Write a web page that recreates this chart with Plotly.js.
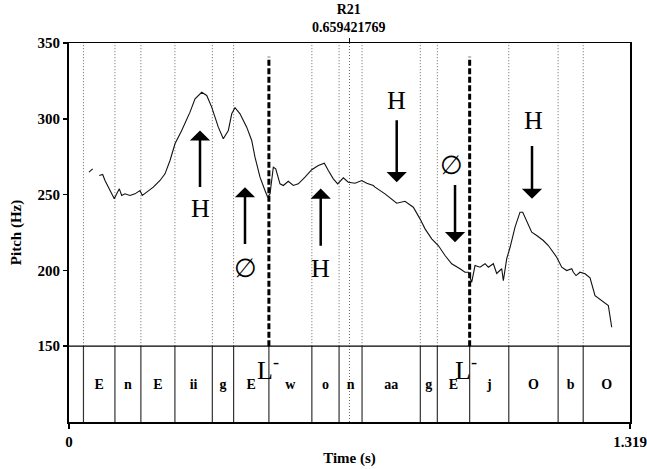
<!DOCTYPE html>
<html>
<head>
<meta charset="utf-8">
<script src="https://cdn.plot.ly/plotly-3.0.1.min.js"></script>
<style>html,body{margin:0;padding:0;background:#fff}#chart{width:647px;height:469px}</style>
</head>
<body>
<div id="chart"></div>
<script>
// ---- data ----
const segBounds = [0.034, 0.108, 0.169, 0.249, 0.337, 0.387, 0.470, 0.571, 0.635, 0.689, 0.826, 0.866, 0.942, 1.034, 1.150, 1.209, 1.319];
const segLabels = ['E', 'n', 'E', 'ii', 'g', 'E', 'w', 'o', 'n', 'aa', 'g', 'E', 'j', 'O', 'b', 'O'];
const breakTimes = [0.470, 0.942];
const breakLabels = ['L<sup>-</sup>', 'L<sup>-</sup>'];
const breakLabelX = [0.468, 0.933];
const markerTime = 0.659421769;
const markerName = 'R21';

const pitchT1 = [0.0470, 0.0557];
const pitchF1 = [264.8, 267.0];
const pitchT2 = [0.0712, 0.0792, 0.0846, 0.0964, 0.1065, 0.1122, 0.1183, 0.1239, 0.1317, 0.1434, 0.1552, 0.1669, 0.1723, 0.1827, 0.1982, 0.2140, 0.2257, 0.2375, 0.2492, 0.2650, 0.2845, 0.2963, 0.3120, 0.3238, 0.3355, 0.3510, 0.3628, 0.3746, 0.3826, 0.3903, 0.4021, 0.4178, 0.4296, 0.4373, 0.4491, 0.4608, 0.4672, 0.4726, 0.4804, 0.4860, 0.4961, 0.5039, 0.5156, 0.5274, 0.5391, 0.5549, 0.5707, 0.5862, 0.6003, 0.6097, 0.6214, 0.6318, 0.6450, 0.6567, 0.6725, 0.6882, 0.7000, 0.7155, 0.7195, 0.7430, 0.7705, 0.7900, 0.8095, 0.8253, 0.8371, 0.8528, 0.8683, 0.8841, 0.8998, 0.9193, 0.9311, 0.9389, 0.9469, 0.9546, 0.9664, 0.9781, 0.9859, 0.9977, 1.0056, 1.0174, 1.0212, 1.0292, 1.0369, 1.0487, 1.0604, 1.0668, 1.0762, 1.0879, 1.0997, 1.1152, 1.1270, 1.1350, 1.1467, 1.1585, 1.1702, 1.1820, 1.1858, 1.1921, 1.2015, 1.2133, 1.2250, 1.2368, 1.2525, 1.2681, 1.2760];
const pitchF2 = [262.6, 263.3, 259.3, 252.7, 247.2, 250.5, 253.8, 249.4, 250.5, 249.4, 250.5, 252.7, 249.4, 251.6, 254.9, 259.3, 263.7, 272.5, 283.5, 292.3, 304.4, 313.2, 317.5, 315.4, 307.7, 294.5, 286.8, 292.3, 303.3, 307.3, 303.3, 294.5, 285.7, 274.7, 261.5, 252.7, 248.3, 250.5, 268.1, 267.0, 257.1, 256.0, 258.8, 256.0, 257.1, 261.5, 266.4, 269.2, 270.7, 265.9, 260.4, 257.1, 261.1, 258.2, 257.5, 259.3, 257.5, 256.0, 254.9, 250.5, 244.3, 245.6, 241.7, 234.0, 227.4, 220.8, 216.4, 209.8, 204.4, 201.1, 198.8, 198.8, 192.2, 203.2, 202.1, 204.4, 202.1, 204.4, 198.0, 201.1, 193.3, 207.8, 215.1, 228.5, 238.4, 238.4, 232.9, 225.2, 223.0, 219.7, 216.4, 213.1, 208.7, 202.1, 199.9, 201.1, 198.8, 196.6, 198.8, 197.8, 195.1, 183.4, 180.1, 176.8, 162.5];

// tone labels and arrows
const toneText = ['H', '\u2205', 'H', 'H', '\u2205', 'H'];
const toneX = [0.308, 0.4138, 0.5918, 0.7705, 0.900, 1.0917];
const toneY = [240.8, 201.3, 201.3, 312.1, 269.2, 298.9];
const arrowX = [0.308, 0.4138, 0.5918, 0.7705, 0.9076, 1.0886];
const arrowTailY = [254.0, 216.4, 215.3, 300.0, 257.3, 283.0];
const arrowTipY = [292.3, 254.9, 254.0, 258.2, 218.6, 247.2];

const yTicks = [150, 200, 250, 300, 350];
const xTickVals = [0, 1.319];
const xTickText = ['0', '1.319'];

// ---- layout constants ----
const FONT = 'Liberation Serif, Times New Roman, DejaVu Serif, serif';
const PANE_SPLIT = 150, Y_MIN = 100, Y_MAX = 350, BREAK_TOP = 341, LABEL_Y = 124, LBL_Y = 135;

// ---- build traces ----
const traces = [];
function vlines(xs, y0, y1) {
  const x = [], y = [];
  xs.forEach(v => { x.push(v, v, null); y.push(y0, y1, null); });
  return { x, y };
}
const innerBounds = segBounds.slice(0, -1);
const dottedB = innerBounds.filter(b => !breakTimes.includes(b));
let d = vlines(dottedB, PANE_SPLIT, Y_MAX);
traces.push({ x: d.x, y: d.y, mode: 'lines', line: { color: '#666', width: 1, dash: '1px,2px' }, hoverinfo: 'skip', showlegend: false });
d = vlines([markerTime], Y_MIN, Y_MAX);
traces.push({ x: d.x, y: d.y, mode: 'lines', line: { color: '#666', width: 1, dash: '1px,2px' }, hoverinfo: 'skip', showlegend: false });
d = vlines(innerBounds, Y_MIN, PANE_SPLIT);
traces.push({ x: d.x, y: d.y, mode: 'lines', line: { color: '#333', width: 1.2 }, hoverinfo: 'skip', showlegend: false });
d = vlines(breakTimes, PANE_SPLIT, BREAK_TOP);
traces.push({ x: d.x, y: d.y, mode: 'lines', line: { color: '#000', width: 3, dash: '6px,2.5px' }, hoverinfo: 'skip', showlegend: false });

traces.push({ x: pitchT1, y: pitchF1, mode: 'lines', line: { color: '#111', width: 1.1 }, showlegend: false });
traces.push({ x: pitchT2, y: pitchF2, mode: 'lines', line: { color: '#111', width: 1.1 }, showlegend: false });

const mids = segLabels.map((_, i) => (segBounds[i] + segBounds[i + 1]) / 2);
traces.push({ x: mids, y: segLabels.map(() => LABEL_Y), text: segLabels, mode: 'text', textposition: 'middle center',
  textfont: { family: FONT, size: 14, color: '#000', weight: 'bold' }, hoverinfo: 'skip', showlegend: false });

// ---- annotations ----
const annotations = [];
toneText.forEach((t, i) => annotations.push({ x: toneX[i], y: toneY[i], xref: 'x', yref: 'y', text: t, showarrow: false,
  font: { family: FONT, size: 26, color: '#000' } }));
arrowX.forEach((x, i) => annotations.push({ x: x, y: arrowTipY[i], ax: x, ay: arrowTailY[i], xref: 'x', yref: 'y', axref: 'x', ayref: 'y',
  text: '', showarrow: true, arrowhead: 1, arrowsize: 1.35, arrowwidth: 2.5, arrowcolor: '#000', standoff: 0, startstandoff: 0 }));
breakLabelX.forEach((x, i) => annotations.push({ x: x, y: LBL_Y, xref: 'x', yref: 'y', text: breakLabels[i], showarrow: false,
  font: { family: FONT, size: 26, color: '#000' } }));
annotations.push({ x: markerTime, y: 1, xref: 'x', yref: 'paper', yanchor: 'bottom', yshift: 6, showarrow: false,
  text: markerName + '<br>' + markerTime.toFixed(9), font: { family: FONT, size: 14, color: '#000', weight: 'bold' } });

const layout = {
  width: 647, height: 469,
  margin: { l: 69, r: 17, t: 43, b: 47 },
  paper_bgcolor: '#fff', plot_bgcolor: '#fff',
  showlegend: false,
  font: { family: FONT, color: '#000' },
  xaxis: {
    range: [0, 1.319], tickmode: 'array', tickvals: xTickVals, ticktext: xTickText,
    ticks: 'outside', ticklen: 5, tickwidth: 1.5, tickcolor: '#000',
    showgrid: false, zeroline: false, showline: true, linecolor: '#000', linewidth: 1.5, mirror: true,
    tickfont: { family: FONT, size: 15, color: '#000', weight: 'bold' },
    title: { text: 'Time (s)', font: { family: FONT, size: 15, color: '#000', weight: 'bold' }, standoff: 4 }
  },
  yaxis: {
    range: [Y_MIN, Y_MAX], tickmode: 'array', tickvals: yTicks,
    ticks: 'outside', ticklen: 4, tickwidth: 1.5, tickcolor: '#000',
    showgrid: false, zeroline: false, showline: true, linecolor: '#000', linewidth: 2, mirror: true,
    tickfont: { family: FONT, size: 15, color: '#000', weight: 'bold' },
    title: { text: 'Pitch (Hz)', font: { family: FONT, size: 15, color: '#000', weight: 'bold' }, standoff: 12 }
  },
  shapes: [
    { type: 'line', xref: 'paper', yref: 'y', x0: 0, x1: 1, y0: PANE_SPLIT, y1: PANE_SPLIT, line: { color: '#000', width: 1.2 } },
    { type: 'line', xref: 'x', yref: 'paper', x0: markerTime, x1: markerTime, y0: 1, y1: 1.013, line: { color: '#000', width: 1 } }
  ],
  annotations: annotations
};

Plotly.newPlot('chart', traces, layout, { staticPlot: true, displayModeBar: false });
</script>
</body>
</html>
